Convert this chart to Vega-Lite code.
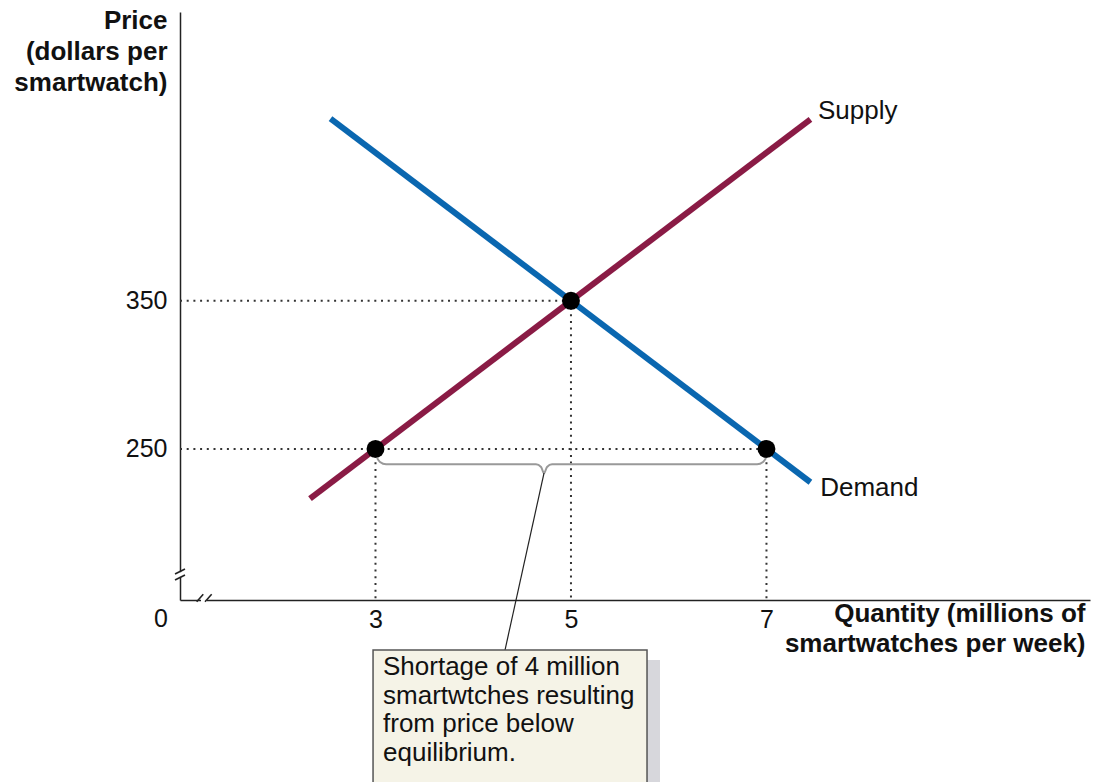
{
  "$schema": "https://vega.github.io/schema/vega-lite/v6.json",
  "width": 910,
  "height": 588,
  "autosize": {"type": "none"},
  "padding": {"left": 180, "top": 12, "right": 9, "bottom": 182},
  "background": "white",
  "config": {
    "view": {"stroke": null},
    "font": "Liberation Sans",
    "axis": {"zindex": 0}
  },
  "datasets": {
    "supply": [{"q": 2.33, "p": 216.5}, {"q": 7.45, "p": 472.5}],
    "demand": [{"q": 2.54, "p": 473}, {"q": 7.45, "p": 227.5}],
    "points": [{"q": 3, "p": 250}, {"q": 5, "p": 350}, {"q": 7, "p": 250}],
    "guides": [
      {"q": 1, "p": 350, "q2": 5, "p2": 350},
      {"q": 1, "p": 250, "q2": 7, "p2": 250},
      {"q": 3, "p": 250, "q2": 3, "p2": 148},
      {"q": 5, "p": 350, "q2": 5, "p2": 148},
      {"q": 7, "p": 250, "q2": 7, "p2": 148}
    ],
    "brace": [
      {"q": 3.016, "p": 243.9},
      {"q": 3.046, "p": 241.2},
      {"q": 3.108, "p": 239.6},
      {"q": 4.642, "p": 239.6},
      {"q": 4.694, "p": 237.8},
      {"q": 4.724, "p": 233.6},
      {"q": 4.755, "p": 237.8},
      {"q": 4.806, "p": 239.6},
      {"q": 6.904, "p": 239.6},
      {"q": 6.965, "p": 241.2},
      {"q": 6.996, "p": 243.9}
    ],
    "pointer": [{"q": 4.724, "p": 233.6}, {"q": 4.325, "p": 114.2}],
    "shadow": [{"q": 5.778, "q2": 5.911, "p": 107.5, "p2": 19.7}],
    "box": [{"q": 2.975, "q2": 5.778, "p": 114.2, "p2": 19.7}],
    "note": [{"q": 3.077, "p": 97.4, "label": "Shortage of 4 million\nsmartwtches resulting\nfrom price below\nequilibrium."}],
    "curveLabels": [
      {"q": 7.527, "p": 472.8, "label": "Supply"},
      {"q": 7.55, "p": 218.4, "label": "Demand"}
    ],
    "origin": [{"q": 1, "p": 148, "label": "0"}],
    "gaps": [
      {"q": 1, "p": 163.6, "q2": 1, "p2": 166.8},
      {"q": 1.215, "p": 148, "q2": 1.276, "p2": 148}
    ],
    "slashes": [
      {"q": 0.949, "p": 165.56, "q2": 1.051, "p2": 168.93},
      {"q": 0.949, "p": 161.5, "q2": 1.051, "p2": 164.88},
      {"q": 1.171, "p": 146.85, "q2": 1.238, "p2": 151.85},
      {"q": 1.256, "p": 146.85, "q2": 1.324, "p2": 151.85}
    ]
  },
  "encoding": {
    "x": {
      "field": "q",
      "type": "quantitative",
      "scale": {"domain": [1, 10.31], "nice": false, "zero": false},
      "axis": {
        "values": [3, 5, 7],
        "ticks": false,
        "tickSize": 0,
        "grid": false,
        "domainColor": "#222",
        "domainWidth": 1.5,
        "labelFontSize": 25,
        "labelColor": "#111",
        "labelBaseline": "alphabetic",
        "labelPadding": 27,
        "title": ["Quantity (millions of", "smartwatches per week)"],
        "titleFontSize": 26,
        "titleFontWeight": "bold",
        "titleColor": "#111",
        "titleAngle": 0,
        "titleAlign": "right",
        "titleBaseline": "alphabetic",
        "titleLineHeight": 30,
        "titleX": 905,
        "titleY": 21
      }
    },
    "y": {
      "field": "p",
      "type": "quantitative",
      "scale": {"domain": [148, 545], "nice": false, "zero": false},
      "axis": {
        "values": [250, 350],
        "ticks": false,
        "tickSize": 0,
        "grid": false,
        "domainColor": "#222",
        "domainWidth": 1.5,
        "labelFontSize": 25,
        "labelColor": "#111",
        "labelPadding": 13,
        "title": ["Price", "(dollars per", "smartwatch)"],
        "titleFontSize": 26,
        "titleFontWeight": "bold",
        "titleColor": "#111",
        "titleAngle": 0,
        "titleAlign": "right",
        "titleBaseline": "alphabetic",
        "titleLineHeight": 31,
        "titleX": -13,
        "titleY": 16
      }
    }
  },
  "layer": [
    {
      "data": {"name": "gaps"},
      "mark": {"type": "rule", "color": "white", "strokeWidth": 4},
      "encoding": {"x2": {"field": "q2"}, "y2": {"field": "p2"}}
    },
    {
      "data": {"name": "slashes"},
      "mark": {"type": "rule", "color": "#222", "strokeWidth": 1.6},
      "encoding": {"x2": {"field": "q2"}, "y2": {"field": "p2"}}
    },
    {
      "data": {"name": "guides"},
      "mark": {"type": "rule", "color": "#333", "strokeWidth": 2, "strokeDash": [2, 4.7]},
      "encoding": {"x2": {"field": "q2"}, "y2": {"field": "p2"}}
    },
    {
      "data": {"name": "brace"},
      "mark": {"type": "line", "color": "#999", "strokeWidth": 2, "interpolate": "monotone"},
      "encoding": {}
    },
    {
      "data": {"name": "pointer"},
      "mark": {"type": "line", "color": "#222", "strokeWidth": 1.2},
      "encoding": {}
    },
    {
      "data": {"name": "supply"},
      "mark": {"type": "line", "color": "#8a1b45", "strokeWidth": 6},
      "encoding": {}
    },
    {
      "data": {"name": "demand"},
      "mark": {"type": "line", "color": "#0a67b0", "strokeWidth": 6},
      "encoding": {}
    },
    {
      "data": {"name": "points"},
      "mark": {"type": "circle", "color": "black", "opacity": 1, "size": 320}
    },
    {
      "data": {"name": "shadow"},
      "mark": {"type": "rect", "color": "#d7d7dc"},
      "encoding": {"x2": {"field": "q2"}, "y2": {"field": "p2"}}
    },
    {
      "data": {"name": "box"},
      "mark": {"type": "rect", "fill": "#f5f3e7", "stroke": "#555", "strokeWidth": 1.5},
      "encoding": {"x2": {"field": "q2"}, "y2": {"field": "p2"}}
    },
    {
      "data": {"name": "note"},
      "mark": {"type": "text", "align": "left", "baseline": "alphabetic", "fontSize": 26, "lineHeight": 28.7, "lineBreak": "\n", "color": "#111"},
      "encoding": {"text": {"field": "label"}}
    },
    {
      "data": {"name": "curveLabels"},
      "mark": {"type": "text", "align": "left", "baseline": "alphabetic", "fontSize": 26, "color": "#111"},
      "encoding": {"text": {"field": "label"}}
    },
    {
      "data": {"name": "origin"},
      "mark": {"type": "text", "align": "center", "baseline": "alphabetic", "fontSize": 25, "dx": -19, "dy": 27, "color": "#111"},
      "encoding": {"text": {"field": "label"}}
    }
  ]
}
